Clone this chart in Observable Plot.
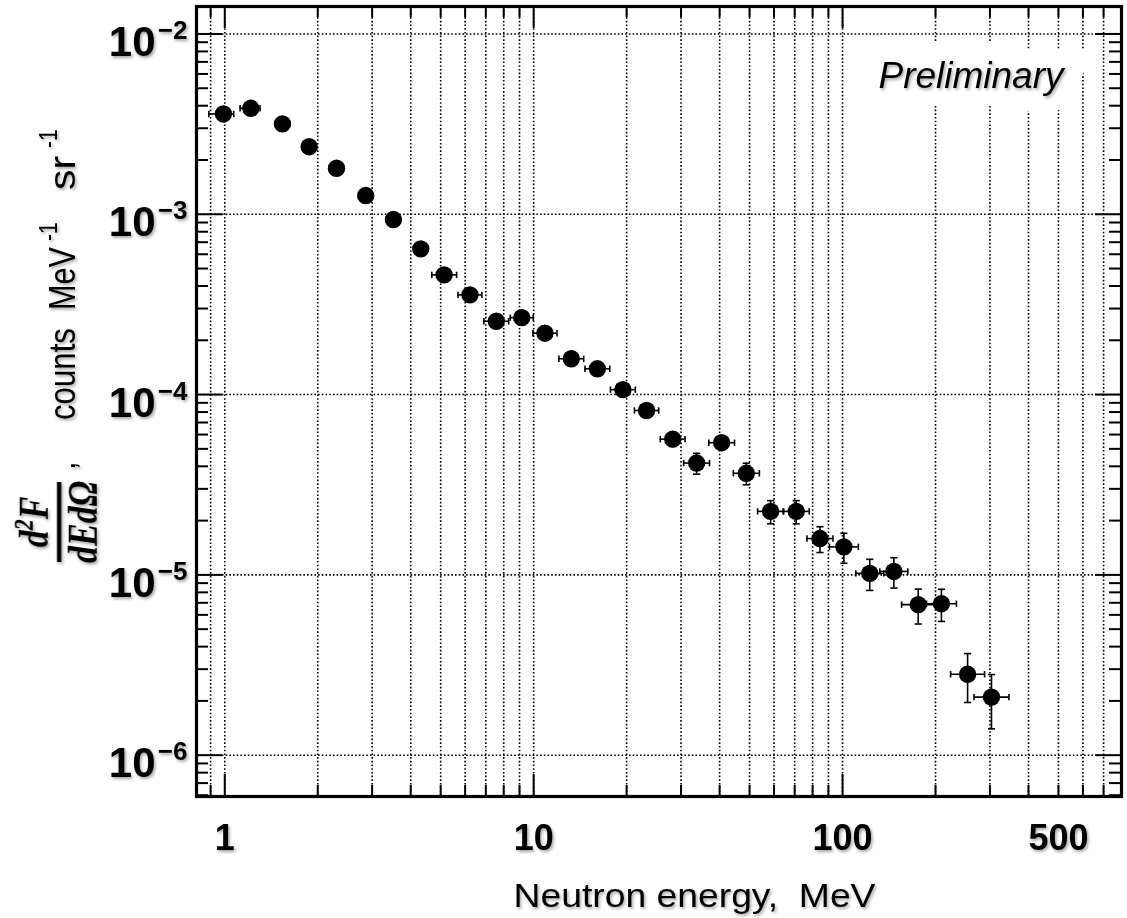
<!DOCTYPE html>
<html><head><meta charset="utf-8">
<script src="https://cdn.jsdelivr.net/npm/d3@7"></script>
<script src="https://cdn.jsdelivr.net/npm/@observablehq/plot@0.6"></script>
<style>html,body{margin:0;padding:0;background:#fff;} #chart{width:1127px;height:918px;}</style>
</head><body><div id="chart"></div>
<script>
// ---- data ----
const energy = [0.99, 1.214, 1.537, 1.875, 2.30, 2.86, 3.515, 4.31, 5.13, 6.22, 7.57, 9.15, 10.88, 13.24, 16.08, 19.45, 23.2, 28.2, 33.7, 40.6, 48.8, 58.5, 70.8, 84.5, 101, 122.5, 146.6, 175.8, 209, 254, 303.5];
const energyLow = [0.888, 1.121, 1.46, 1.78, 2.18, 2.71, 3.33, 4.09, 4.68, 5.69, 6.90, 8.40, 9.95, 12.07, 14.66, 17.73, 21.2, 25.7, 30.6, 36.9, 44.3, 53.1, 64.2, 76.7, 90.7, 110.4, 132, 155.3, 187, 223.8, 266.5];
const energyHigh = [1.069, 1.301, 1.62, 1.98, 2.42, 3.01, 3.70, 4.54, 5.63, 6.80, 8.30, 9.96, 11.9, 14.52, 17.64, 21.34, 25.4, 30.9, 37.1, 44.7, 53.8, 64.5, 78.0, 93.1, 112.5, 136, 162.7, 199, 233.7, 288.3, 345.7];
const flux = [3.60e-3, 3.87e-3, 3.17e-3, 2.37e-3, 1.80e-3, 1.27e-3, 9.35e-4, 6.43e-4, 4.61e-4, 3.57e-4, 2.55e-4, 2.67e-4, 2.19e-4, 1.58e-4, 1.39e-4, 1.065e-4, 8.16e-5, 5.66e-5, 4.17e-5, 5.41e-5, 3.66e-5, 2.25e-5, 2.25e-5, 1.59e-5, 1.43e-5, 1.02e-5, 1.045e-5, 6.84e-6, 6.92e-6, 2.81e-6, 2.10e-6];
const fluxErr = [1.0e-4, 1.0e-4, 8e-5, 6e-5, 5e-5, 4e-5, 3e-5, 2e-5, 1.5e-5, 1.3e-5, 1.0e-5, 1.2e-5, 1.0e-5, 8e-6, 8e-6, 7e-6, 6e-6, 5e-6, 5.5e-6, 4.5e-6, 5e-6, 3.3e-6, 3.3e-6, 2.6e-6, 2.7e-6, 2.0e-6, 2.0e-6, 1.5e-6, 1.4e-6, 8.5e-7, 7e-7];

const xTickValues = [1, 10, 100, 500];
const xTickLabels = ["1", "10", "100", "500"];
const xMajorTicks = [1, 10, 100];
const xMinorTicks = [0.9, 2, 3, 4, 5, 6, 7, 8, 9, 20, 30, 40, 50, 60, 70, 80, 90, 200, 300, 400, 500, 600, 700];
const yTickValues = [1e-2, 1e-3, 1e-4, 1e-5, 1e-6];
const yTickBase = ["10", "10", "10", "10", "10"];
const yTickExponent = ["\u22122", "\u22123", "\u22124", "\u22125", "\u22126"];
const yMinorTicks = [6e-7, 7e-7, 8e-7, 9e-7, 2e-6, 3e-6, 4e-6, 5e-6, 6e-6, 7e-6, 8e-6, 9e-6, 2e-5, 3e-5, 4e-5, 5e-5, 6e-5, 7e-5, 8e-5, 9e-5, 2e-4, 3e-4, 4e-4, 5e-4, 6e-4, 7e-4, 8e-4, 9e-4, 2e-3, 3e-3, 4e-3, 5e-3, 6e-3, 7e-3, 8e-3, 9e-3];
const xTitle = "Neutron energy,\u00a0 MeV";
const stamp = "Preliminary";

// ---- layout ----
const W = 1127, H = 918, mL = 196, mR = 6, mT = 6, mB = 122;
const FW = W - mL - mR, FH = H - mT - mB;
const SANS = "'Liberation Sans', Arial, Helvetica, sans-serif";
const SERIF = "'Liberation Serif', 'Times New Roman', serif";

const data = energy.map((e, i) => ({
  e, v: flux[i], lo: energyLow[i], hi: energyHigh[i],
  vlo: flux[i] - fluxErr[i], vhi: flux[i] + fluxErr[i]
}));
const yTicks = yTickValues.map((v, i) => ({v, base: yTickBase[i], exp: yTickExponent[i]}));
const xTicks = xTickValues.map((v, i) => ({v, label: xTickLabels[i]}));

const vcap = {draw(ctx, size) { const r = Math.sqrt(size / Math.PI); ctx.moveTo(0, -r); ctx.lineTo(0, r); }};
const hcap = {draw(ctx, size) { const r = Math.sqrt(size / Math.PI); ctx.moveTo(-r, 0); ctx.lineTo(r, 0); }};
const dots = {stroke: "#000", strokeWidth: 1.6, strokeDasharray: "1.6,2.1"};

const plot = Plot.plot({
  width: W, height: H,
  marginLeft: mL, marginRight: mR, marginTop: mT, marginBottom: mB,
  style: {fontFamily: SANS, background: "white", overflow: "visible"},
  x: {type: "log", domain: [0.81, 800], axis: null},
  y: {type: "log", domain: [5.9e-7, 0.0142], axis: null},
  marks: [
    // grid
    Plot.ruleX(xMinorTicks.concat(xMajorTicks), {x: d => d, ...dots}),
    Plot.ruleY(yTickValues, {y: d => d, ...dots}),
    // Preliminary box (white halo) + text
    Plot.text([stamp], {frameAnchor: "top-right", text: d => d, textAnchor: "end", lineAnchor: "bottom",
      dx: -58, dy: 81, fontSize: 37, fontStyle: "italic", fill: "white", stroke: "white", strokeWidth: 36, strokeLinejoin: "miter"}),
    Plot.text([stamp], {frameAnchor: "top-right", text: d => d, textAnchor: "end", lineAnchor: "bottom",
      dx: -58, dy: 81, fontSize: 37, fontStyle: "italic", fill: "black"}),
    // error bars
    Plot.ruleY(data, {y: "v", x1: "lo", x2: "hi", stroke: "black", strokeWidth: 1.6}),
    Plot.ruleX(data, {x: "e", y1: "vlo", y2: "vhi", stroke: "black", strokeWidth: 1.6}),
    Plot.dot(data, {x: "lo", y: "v", symbol: vcap, r: 3.2, fill: "none", stroke: "black", strokeWidth: 1.6}),
    Plot.dot(data, {x: "hi", y: "v", symbol: vcap, r: 3.2, fill: "none", stroke: "black", strokeWidth: 1.6}),
    Plot.dot(data, {x: "e", y: "vlo", symbol: hcap, r: 3.6, fill: "none", stroke: "black", strokeWidth: 1.6}),
    Plot.dot(data, {x: "e", y: "vhi", symbol: hcap, r: 3.6, fill: "none", stroke: "black", strokeWidth: 1.6}),
    Plot.dot(data, {x: "e", y: "v", r: 8.7, fill: "black", stroke: "none"}),
    // ticks (inward)
    Plot.tickX(xMajorTicks, {x: d => d, insetTop: FH - 22, stroke: "black", strokeWidth: 2}),
    Plot.tickX(xMajorTicks, {x: d => d, insetBottom: FH - 22, stroke: "black", strokeWidth: 2}),
    Plot.tickX(xMinorTicks, {x: d => d, insetTop: FH - 11, stroke: "black", strokeWidth: 2}),
    Plot.tickX(xMinorTicks, {x: d => d, insetBottom: FH - 11, stroke: "black", strokeWidth: 2}),
    Plot.tickY(yTickValues, {y: d => d, insetRight: FW - 26, stroke: "black", strokeWidth: 2}),
    Plot.tickY(yTickValues, {y: d => d, insetLeft: FW - 26, stroke: "black", strokeWidth: 2}),
    Plot.tickY(yMinorTicks, {y: d => d, insetRight: FW - 12, stroke: "black", strokeWidth: 2}),
    Plot.tickY(yMinorTicks, {y: d => d, insetLeft: FW - 12, stroke: "black", strokeWidth: 2}),
    Plot.frame({stroke: "black", strokeWidth: 3.2}),
    // tick labels
    Plot.text(xTicks, {x: "v", text: "label", frameAnchor: "bottom", lineAnchor: "top", dy: 28, fontSize: 36, fontWeight: "bold", fill: "black"}),
    Plot.text(yTicks, {y: "v", text: "base", frameAnchor: "left", textAnchor: "end", lineAnchor: "bottom", dx: -41, dy: 22, fontSize: 42, fontWeight: "bold", fill: "black"}),
    Plot.text(yTicks, {y: "v", text: "exp", frameAnchor: "left", textAnchor: "end", lineAnchor: "bottom", dx: -9, dy: 5, fontSize: 26, fontWeight: "bold", fill: "black"}),
    // x title
    Plot.text([xTitle], {text: d => d, frameAnchor: "bottom-left", textAnchor: "start", lineAnchor: "bottom", dx: 317, dy: 110, fontSize: 33, fill: "black"})
  ]
});

document.getElementById("chart").appendChild(plot);

const svg = d3.select(plot);

// x title is a little wider in the reference: fit it to its measured length
svg.selectAll("text").filter(function() { return this.textContent === xTitle; })
  .attr("textLength", 362).attr("lengthAdjust", "spacingAndGlyphs");

// shadow filter
const defs = svg.append("defs");
const f = defs.append("filter").attr("id", "tshadow").attr("x", "-10%").attr("y", "-30%").attr("width", "130%").attr("height", "170%");
f.append("feDropShadow").attr("dx", 1.5).attr("dy", 2).attr("stdDeviation", 1.4).attr("flood-color", "#000").attr("flood-opacity", 0.35);

// y-axis title (rotated, with fraction)
const yt = svg.append("g").attr("fill", "black").attr("text-anchor", "start");
const t = yt.append("g").attr("transform", "translate(75,470) rotate(-90) scale(1,1.2)")
  .attr("font-family", SANS).attr("font-size", 31).attr("text-anchor", "start");
t.append("text").attr("x", 0).attr("y", 0).text(",");
t.append("text").attr("x", 50).attr("y", 0).attr("textLength", 92).attr("lengthAdjust", "spacingAndGlyphs").text("counts");
t.append("text").attr("x", 160).attr("y", 0).attr("textLength", 63).attr("lengthAdjust", "spacingAndGlyphs").text("MeV");
t.append("text").attr("x", 229).attr("y", -15).attr("font-size", 21).text("-1");
t.append("text").attr("x", 280).attr("y", 0).attr("textLength", 34).attr("lengthAdjust", "spacingAndGlyphs").text("sr");
t.append("text").attr("x", 322).attr("y", -15).attr("font-size", 21).text("-1");

const fr = yt.append("g").attr("transform", "translate(0,522) rotate(-90) scale(1,1.25)")
  .attr("font-family", SERIF).attr("font-size", 34).attr("font-weight", "bold").attr("font-style", "italic");
const num = fr.append("text").attr("x", 0).attr("y", 38.5).attr("text-anchor", "middle");
num.append("tspan").text("d");
num.append("tspan").attr("dy", -12).attr("font-size", 22).text("2");
num.append("tspan").attr("dy", 12).text("F");
fr.append("text").attr("x", 0).attr("y", 77.5).attr("text-anchor", "middle").text("dEd\u03A9");
fr.append("line").attr("x1", -40).attr("x2", 40).attr("y1", 47.2).attr("y2", 47.2).attr("stroke", "black").attr("stroke-width", 3.4);

// soft shadow on the text, as in the reference
svg.selectAll('g[aria-label="text"]').each(function() {
  const g = d3.select(this);
  if (g.attr("fill") !== "white") g.attr("filter", "url(#tshadow)");
});
yt.attr("filter", "url(#tshadow)");
</script>
</body></html>
